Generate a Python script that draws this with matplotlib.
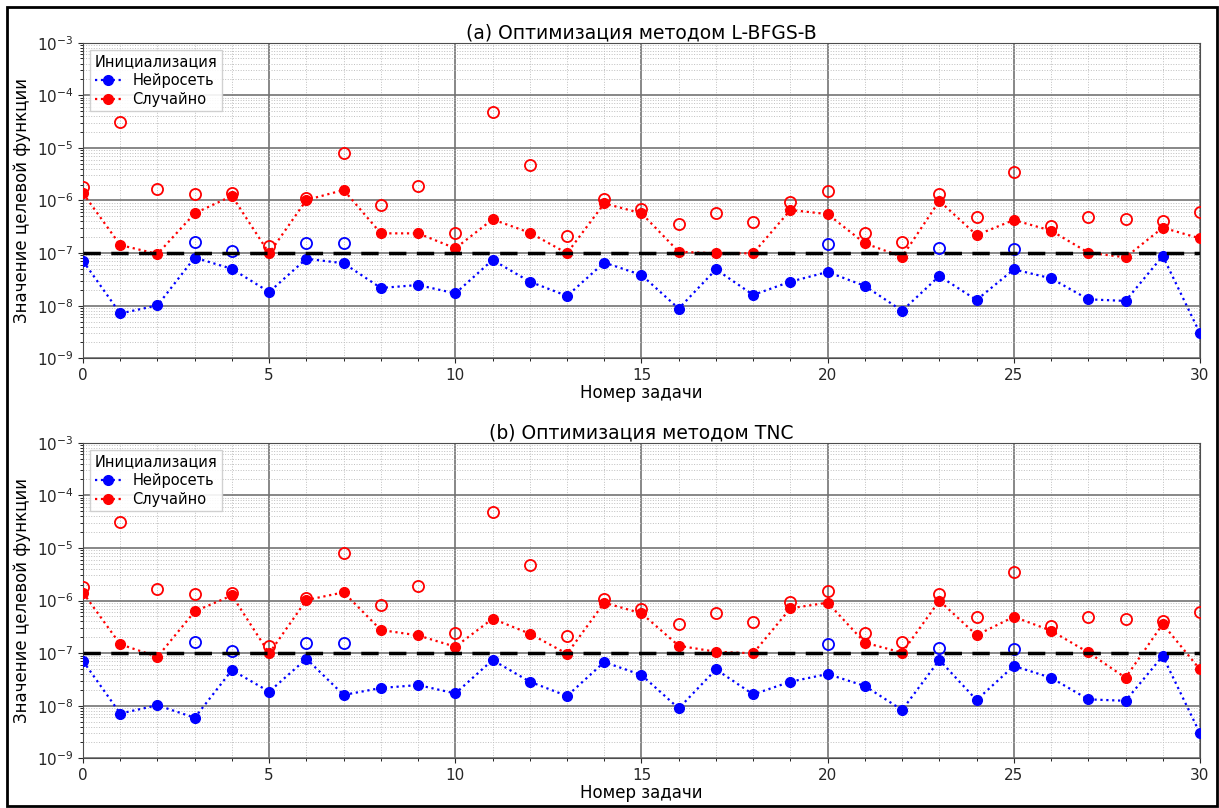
import matplotlib
matplotlib.use("Agg")
import matplotlib.pyplot as plt
import numpy as np
from matplotlib.ticker import MultipleLocator, LogLocator, NullFormatter
from matplotlib.patches import Rectangle

nan = np.nan
tasks = np.arange(0, 31)

# (a) L-BFGS-B
nn_lbfgs = [7.06e-8, 7.1e-9, 1.01e-8, 8.2e-8, 5.0e-8, 1.82e-8, 7.8e-8, 6.4e-8, 2.17e-8, 2.47e-8,
            1.71e-8, 7.4e-8, 2.86e-8, 1.53e-8, 6.6e-8, 3.83e-8, 8.8e-9, 4.9e-8, 1.6e-8, 2.86e-8,
            4.37e-8, 2.37e-8, 8.0e-9, 3.66e-8, 1.28e-8, 4.9e-8, 3.31e-8, 1.32e-8, 1.23e-8, 8.8e-8,
            2.98e-9]
rnd_lbfgs = [1.37e-6, 1.42e-7, 9.6e-8, 5.7e-7, 1.22e-6, 9.9e-8, 1.02e-6, 1.58e-6, 2.37e-7, 2.37e-7,
             1.23e-7, 4.37e-7, 2.44e-7, 9.9e-8, 8.8e-7, 5.7e-7, 1.06e-7, 9.9e-8, 9.9e-8, 6.6e-7,
             5.5e-7, 1.53e-7, 8.5e-8, 9.8e-7, 2.2e-7, 4.25e-7, 2.67e-7, 1.02e-7, 8.3e-8, 3.04e-7,
             1.9e-7]

# (b) TNC
nn_tnc = [7.06e-8, 7.1e-9, 1.02e-8, 5.9e-9, 4.76e-8, 1.85e-8, 7.8e-8, 1.6e-8, 2.17e-8, 2.47e-8,
          1.71e-8, 7.4e-8, 2.86e-8, 1.53e-8, 6.76e-8, 3.83e-8, 8.9e-9, 4.9e-8, 1.64e-8, 2.86e-8,
          4.0e-8, 2.37e-8, 8.3e-9, 7.4e-8, 1.28e-8, 5.7e-8, 3.4e-8, 1.32e-8, 1.24e-8, 8.8e-8,
          2.98e-9]
rnd_tnc = [1.41e-6, 1.47e-7, 8.5e-8, 6.2e-7, 1.25e-6, 9.9e-8, 1.02e-6, 1.43e-6, 2.75e-7, 2.17e-7,
           1.32e-7, 4.5e-7, 2.34e-7, 9.7e-8, 9.1e-7, 5.7e-7, 1.38e-7, 1.06e-7, 9.9e-8, 7.1e-7,
           9.1e-7, 1.58e-7, 1.02e-7, 9.9e-7, 2.2e-7, 4.9e-7, 2.67e-7, 1.03e-7, 3.4e-8, 3.57e-7,
           4.9e-8]

# open markers (same in both panels)
nn_open = [nan, nan, nan, 1.6e-7, 1.11e-7, nan, 1.53e-7, 1.53e-7, nan, nan,
           nan, nan, nan, nan, nan, nan, nan, nan, nan, nan,
           1.47e-7, nan, nan, 1.27e-7, nan, 1.18e-7, nan, nan, nan, nan,
           nan]
rnd_open = [1.83e-6, 3.15e-5, 1.63e-6, 1.33e-6, 1.41e-6, 1.36e-7, 1.1e-6, 7.9e-6, 8.1e-7, 1.88e-6,
            2.44e-7, 4.8e-5, 4.8e-6, 2.08e-7, 1.07e-6, 6.8e-7, 3.5e-7, 5.7e-7, 3.95e-7, 9.4e-7,
            1.51e-6, 2.44e-7, 1.65e-7, 1.33e-6, 4.9e-7, 3.5e-6, 3.3e-7, 4.85e-7, 4.45e-7, 4.07e-7,
            6.1e-7]

threshold = 1e-7

panels = [
    ("(a) Оптимизация методом L-BFGS-B", nn_lbfgs, rnd_lbfgs),
    ("(b) Оптимизация методом TNC", nn_tnc, rnd_tnc),
]

fig = plt.figure(figsize=(12.19, 8.08), dpi=100)
rects = [[0.0681, 0.5566, 0.9163, 0.3906], [0.0681, 0.0615, 0.9163, 0.3906]]

for rect, (title, nn, rnd) in zip(rects, panels):
    ax = fig.add_axes(rect)
    ax.set_yscale('log')
    ax.plot(tasks, nn_open, linestyle='None', marker='o', ms=8, mfc='none', mec='blue', mew=1.3, zorder=3)
    ax.plot(tasks, rnd_open, linestyle='None', marker='o', ms=8, mfc='none', mec='red', mew=1.3, zorder=3)
    ax.plot(tasks, nn, ':', color='blue', marker='o', ms=7, lw=1.6, label='Нейросеть', zorder=4)
    ax.plot(tasks, rnd, ':', color='red', marker='o', ms=7, lw=1.6, label='Случайно', zorder=4)
    ax.axhline(threshold, color='black', linestyle='--', lw=2.5, dashes=(5, 3), zorder=5)

    ax.set_xlim(0, 30)
    ax.set_ylim(1e-9, 1e-3)
    ax.xaxis.set_major_locator(MultipleLocator(5))
    ax.xaxis.set_minor_locator(MultipleLocator(1))
    ax.yaxis.set_major_locator(LogLocator(base=10, numticks=20))
    ax.yaxis.set_minor_locator(LogLocator(base=10, subs=np.arange(2, 10), numticks=100))
    ax.yaxis.set_minor_formatter(NullFormatter())
    ax.grid(which='major', color='0.45', linestyle='-', lw=1.2)
    ax.grid(which='minor', color='0.75', linestyle=':', lw=0.7)
    ax.tick_params(labelsize=11, colors='0.15')
    for s in ax.spines.values():
        s.set_color('0.3')

    ax.set_title(title, fontsize=13.5, pad=3)
    ax.set_xlabel('Номер задачи', fontsize=12, labelpad=1)
    ax.set_ylabel('Значение целевой функции', fontsize=12)
    leg = ax.legend(title='Инициализация', loc='upper left', fontsize=10.5,
                    title_fontsize=10.5, framealpha=0.9, fancybox=False, borderaxespad=0.5,
                    labelspacing=0.25, handlelength=1.8, borderpad=0.3)
    leg._legend_box.align = 'left'

fig.add_artist(Rectangle((7 / 1219, 2 / 808), 1210 / 1219, 799 / 808, transform=fig.transFigure,
                         fill=False, edgecolor='black', lw=2))

fig.savefig('out.png', dpi=100)
